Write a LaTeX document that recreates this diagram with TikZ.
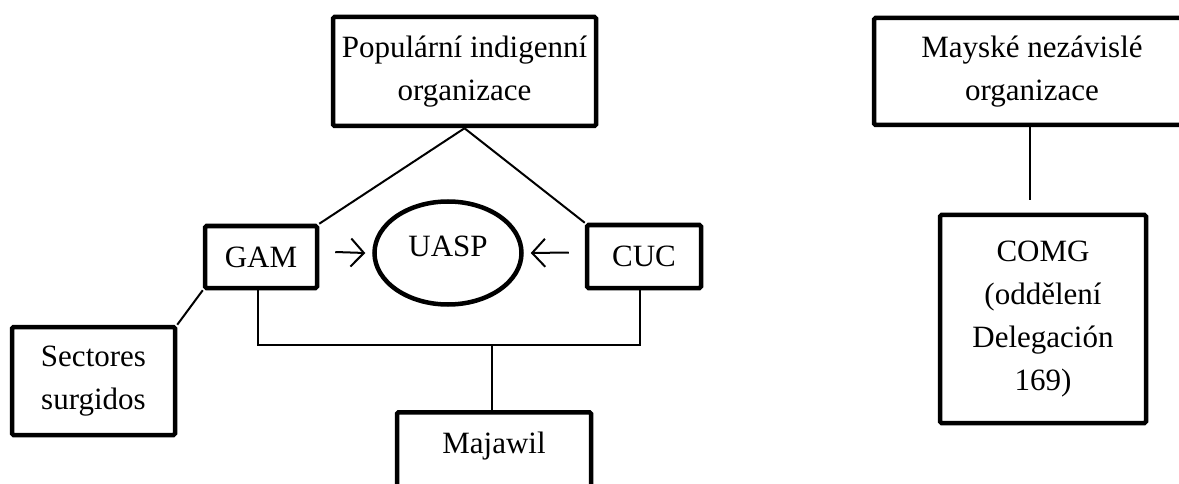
\documentclass[tikz,border=0pt]{standalone}
\usepackage{fontspec}
\setmainfont{Liberation Serif}
\usetikzlibrary{arrows.meta,shapes.geometric}
\begin{document}
\begin{tikzpicture}[x=1pt,y=-1pt,
  box/.style={draw,line width=4.5pt,rounded corners=1.5pt,align=center,inner sep=0pt,
    font=\fontsize{31}{43}\selectfont},
  oval/.style={draw,ellipse,line width=4.5pt,inner sep=0pt,font=\fontsize{31}{43}\selectfont},
  conn/.style={line width=2pt},
  arr/.style={line width=2pt,-{Straight Barb[length=13pt,width=28pt,line width=2pt]}}]
\useasboundingbox (0,0) rectangle (1179,484);
\clip (0,0) rectangle (1179,484);
\node[box,minimum width=263,minimum height=109] (pop) at (464.5,71.5) {Populární indigenní\\organizace};
\node[box,minimum width=316,minimum height=107] (may) at (1032,71.5) {Mayské nezávislé\\organizace};
\node[box,minimum width=206,minimum height=208] (comg) at (1043,319) {COMG\\(oddělení\\Delegación\\169)};
\node[box,minimum width=112,minimum height=62] (gam) at (261,257) {GAM};
\node[box,minimum width=114,minimum height=63] (cuc) at (644,256.5) {CUC};
\node[box,minimum width=163,minimum height=108] (sec) at (93.5,381) {Sectores\\surgidos};
\node[box,minimum width=194,text height=22,text depth=60,inner ysep=19,anchor=north] (maj) at (494,410) {Majawil};
\node[oval,minimum width=147,minimum height=103,text depth=14pt] (uasp) at (448,253) {UASP};
\coordinate (hl) at (258,345);
\coordinate (hr) at (640,345);
\coordinate (hm) at (492,345);
\coordinate (mc) at (1030,200);
\draw[conn] (pop.south) -- (gam.north east);
\draw[conn] (pop.south) -- (cuc.north west);
\draw[conn] (gam.south -| hl) -- (hl) -- (hr) -- (cuc.south -| hr);
\draw[conn] (hm) -- (maj.north -| hm);
\draw[conn] (sec.north east) -- (gam.south west);
\draw[conn] (may.south -| mc) -- (mc);
\draw[arr] ([shift={(16,-5)}]gam.east) -- ([shift={(-7,0)}]uasp.west);
\draw[arr] ([shift={(-16,-4)}]cuc.west) -- ([shift={(7,0)}]uasp.east);
\end{tikzpicture}
\end{document}
